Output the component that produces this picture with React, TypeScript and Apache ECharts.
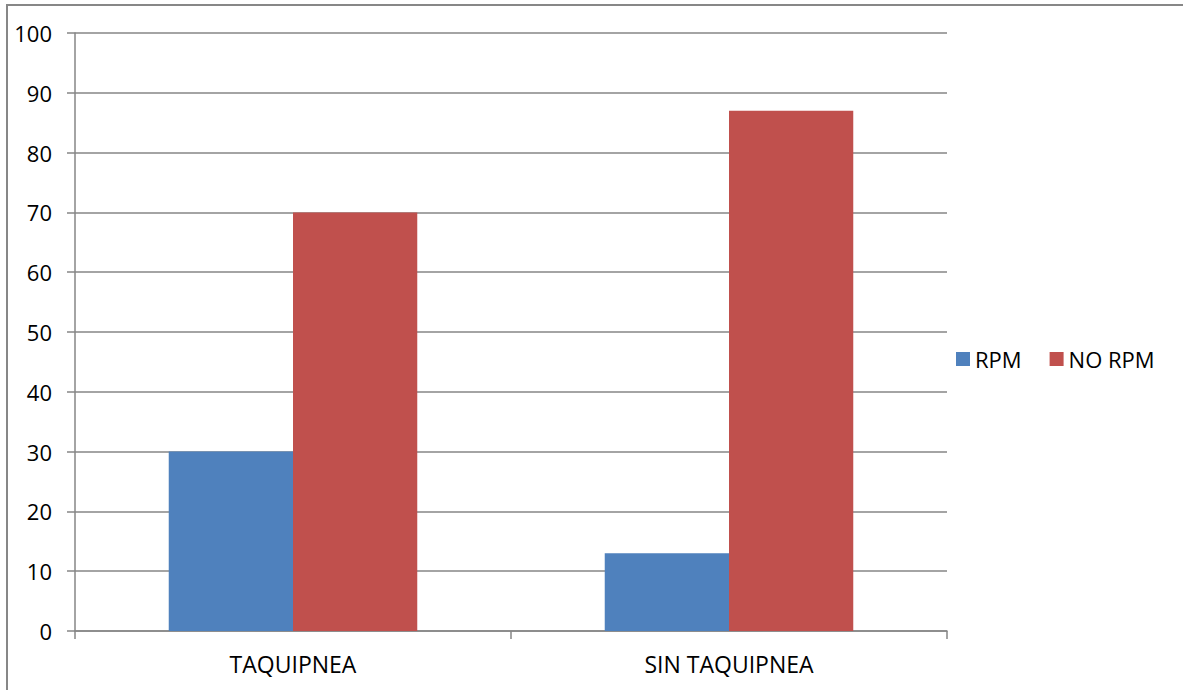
import React, { useEffect, useRef } from "react";
import * as echarts from "echarts";

const categories = ["TAQUIPNEA", "SIN TAQUIPNEA"];
const rpm = [30, 13];
const noRpm = [70, 87];

export default function App() {
  const ref = useRef<HTMLDivElement>(null);
  useEffect(() => {
    const chart = echarts.init(ref.current!, null, { renderer: "svg" });
    const font = "Open Sans";
    chart.setOption({
      animation: false,
      backgroundColor: "#ffffff",
      textStyle: { fontFamily: font },
      graphic: [
        {
          type: "rect",
          shape: { x: 7, y: 5, width: 1250, height: 750 },
          style: { fill: "none", stroke: "#878787", lineWidth: 2 },
          silent: true,
        },
      ],
      grid: { left: 75, top: 33, width: 872, height: 598, containLabel: false },
      legend: {
        left: 951,
        top: 343,
        orient: "horizontal",
        itemWidth: 14,
        itemHeight: 14,
        itemGap: 28,
        icon: "rect",
        textStyle: { fontSize: 22, color: "#000", fontFamily: font },
        data: ["RPM", "NO RPM"],
      },
      xAxis: {
        type: "category",
        data: categories,
        axisLine: { lineStyle: { color: "#868686", width: 1.5 } },
        axisTick: { show: true, length: 8, inside: false, lineStyle: { color: "#868686", width: 1.5 } },
        axisLabel: { fontSize: 23, color: "#000", margin: 21, fontFamily: font },
      },
      yAxis: {
        type: "value",
        min: 0,
        max: 100,
        interval: 10,
        axisLine: { show: true, lineStyle: { color: "#868686", width: 1.5 } },
        axisTick: { show: true, length: 8, lineStyle: { color: "#868686", width: 1.5 } },
        axisLabel: { fontSize: 22, color: "#000", margin: 23, fontFamily: font },
        splitLine: { show: true, lineStyle: { color: "#868686", width: 1.5 } },
      },
      series: [
        {
          name: "RPM",
          type: "bar",
          data: rpm,
          barGap: "0%",
          barCategoryGap: "43%",
          itemStyle: { color: "#4f81bd" },
        },
        {
          name: "NO RPM",
          type: "bar",
          data: noRpm,
          itemStyle: { color: "#c0504d" },
        },
      ],
    });
    return () => chart.dispose();
  }, []);
  return (
    <div
      ref={ref}
      style={{ position: "absolute", left: 0, top: 0, width: 1183, height: 690 }}
    />
  );
}
